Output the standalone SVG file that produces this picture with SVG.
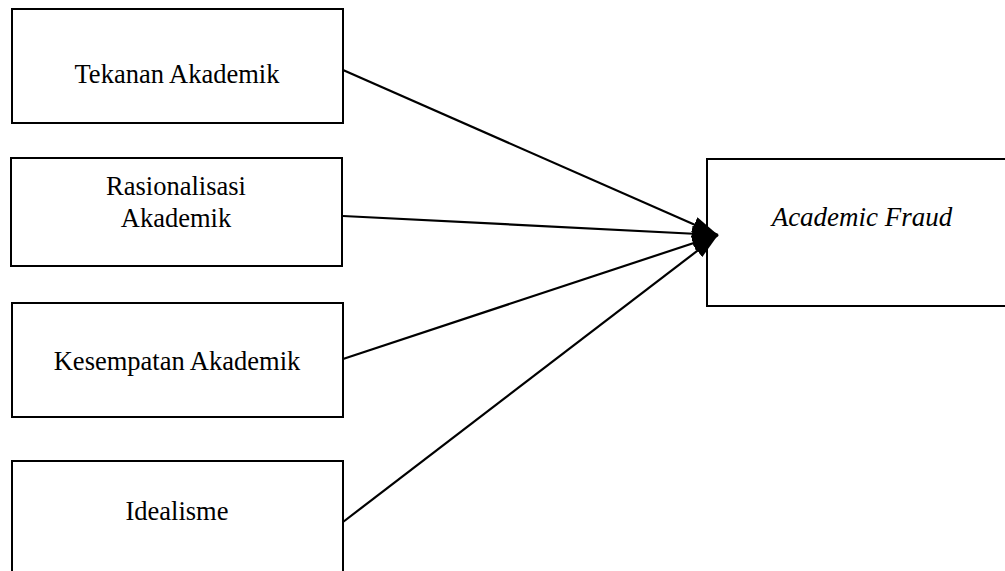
<svg xmlns="http://www.w3.org/2000/svg" width="1005" height="571" viewBox="0 0 1005 571">
<style>
.box{fill:#fff;stroke:#000;stroke-width:2}
.lbl{font-family:"Liberation Serif","Times New Roman",serif;font-size:26.5px;fill:#000;text-anchor:middle}
.it{font-style:italic;font-size:27px}
.conn line{stroke:#000;stroke-width:2.2}
</style>
<defs>
<marker id="ah" viewBox="0 0 26 16" refX="26" refY="8" markerWidth="26" markerHeight="16" markerUnits="userSpaceOnUse" orient="auto">
<path d="M0,0 L26,8 L0,16 Z" fill="#000"/>
</marker>
</defs>
<rect width="1005" height="571" fill="#fff"/>
<g id="n1"><rect class="box" x="12" y="9" width="331" height="114"/><text class="lbl" x="177" y="83">Tekanan Akademik</text></g>
<g id="n2"><rect class="box" x="11" y="158" width="331" height="108"/><text class="lbl" x="176" y="195">Rasionalisasi</text><text class="lbl" x="176" y="227">Akademik</text></g>
<g id="n3"><rect class="box" x="12" y="303" width="331" height="114"/><text class="lbl" x="177" y="370">Kesempatan Akademik</text></g>
<g id="n4"><rect class="box" x="12" y="461" width="331" height="130"/><text class="lbl" x="177" y="520">Idealisme</text></g>
<g id="n5"><rect class="box" x="707" y="159" width="310" height="147"/><text class="lbl it" x="862" y="226">Academic Fraud</text></g>
<g class="conn" id="connectors">
<line x1="343" y1="70" x2="718" y2="235" marker-end="url(#ah)"/>
<line x1="343" y1="216" x2="718" y2="235" marker-end="url(#ah)"/>
<line x1="343" y1="359" x2="718" y2="235" marker-end="url(#ah)"/>
<line x1="343" y1="522" x2="718" y2="235" marker-end="url(#ah)"/>
</g>
</svg>
